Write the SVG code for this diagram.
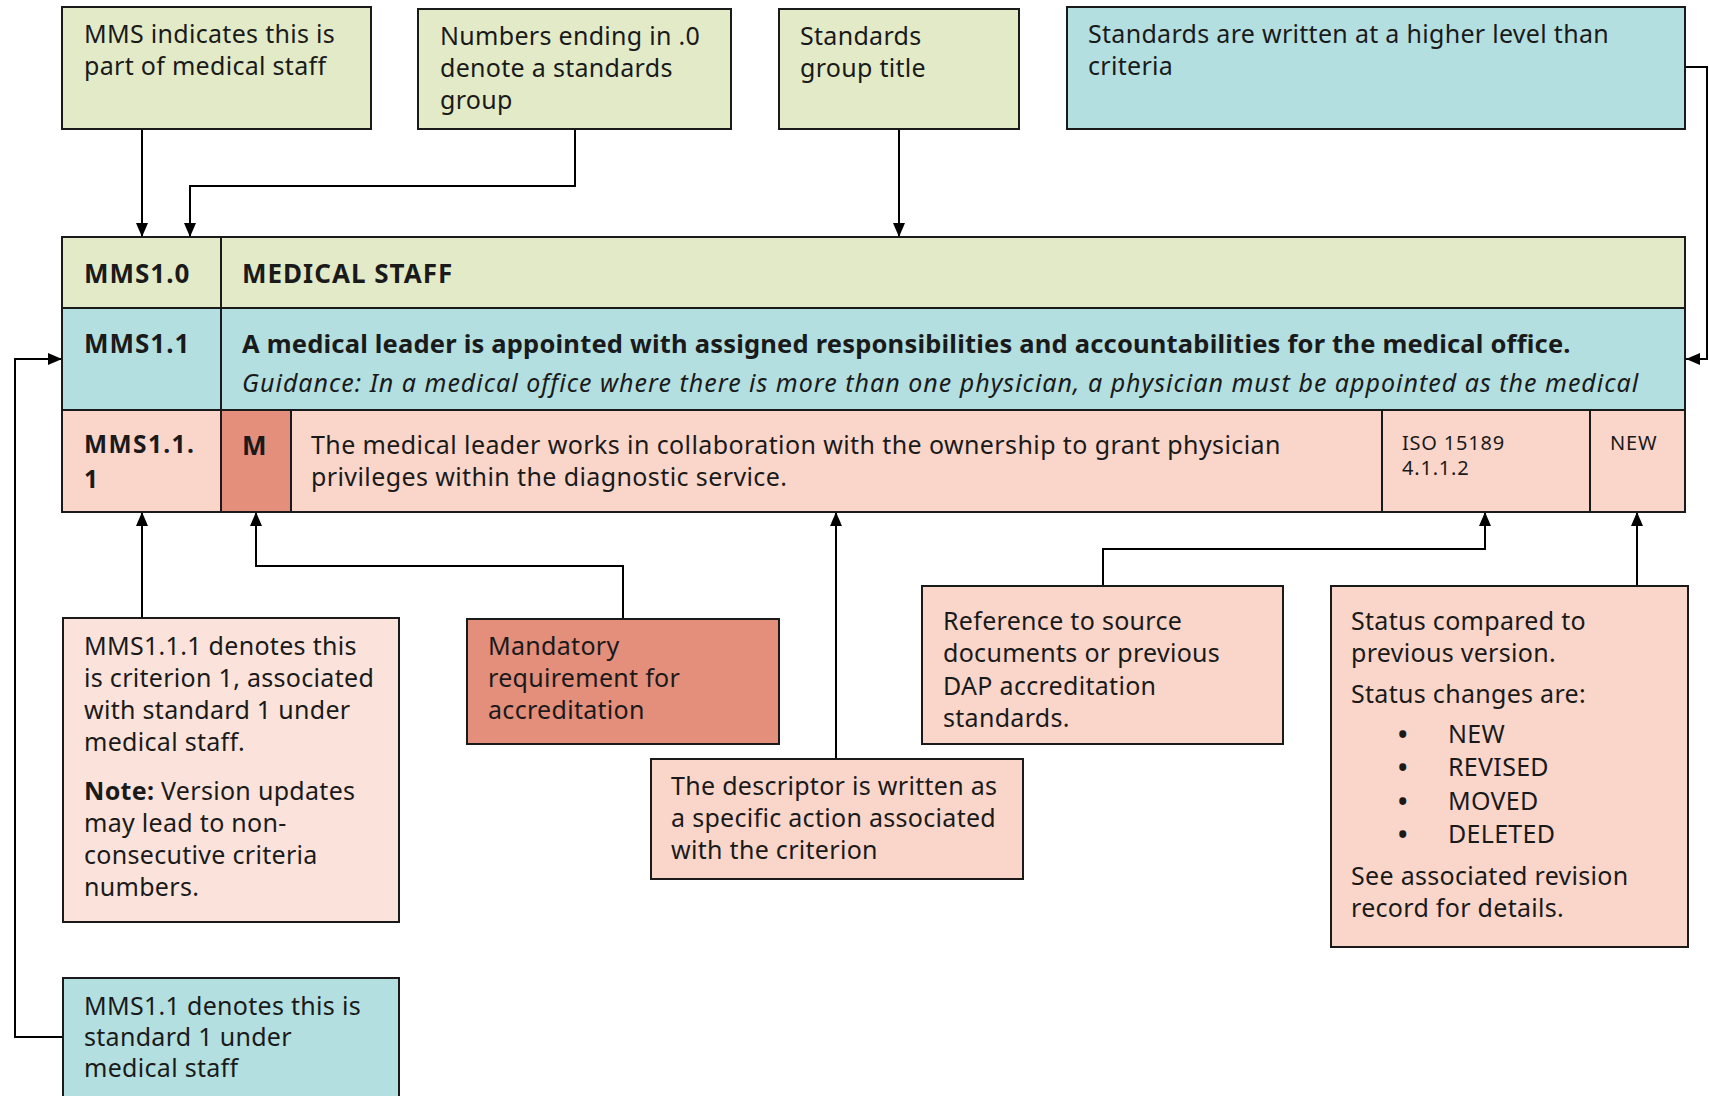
<svg xmlns="http://www.w3.org/2000/svg" width="1709" height="1096" viewBox="0 0 1709 1096">
<defs>
<style>
.t{font-family:"Noto Sans","Open Sans",sans-serif;font-size:25px;letter-spacing:0.3px;fill:#1a1a1a}
.b{font-weight:bold}
.hd{font-weight:bold;font-size:26px;letter-spacing:1px}
.hs{font-weight:bold;font-size:24.5px;letter-spacing:1.4px}
.st{font-weight:bold;font-size:25.5px;letter-spacing:0.2px}
.i{font-style:italic;letter-spacing:1px}
.ds{letter-spacing:0.4px}
.sm{font-size:20px;letter-spacing:0.8px}
.g{fill:#E3EAC8;stroke:#1a1a1a;stroke-width:2}
.bl{fill:#B3DFE0;stroke:#1a1a1a;stroke-width:2}
.pk{fill:#FAD6CA;stroke:#1a1a1a;stroke-width:2}
.lp{fill:#FBE3DB;stroke:#1a1a1a;stroke-width:2}
.dk{fill:#E48E7C;stroke:#1a1a1a;stroke-width:2}
.ln{stroke:#1a1a1a;stroke-width:2;fill:none}
.c{stroke:#000;stroke-width:2;fill:none;marker-end:url(#ah)}
</style>
<marker id="ah" markerUnits="userSpaceOnUse" markerWidth="14" markerHeight="12" refX="14" refY="6" orient="auto">
<path d="M0,0 L14,6 L0,12 z" fill="#000"/>
</marker>
</defs>

<g id="connectors">
<path class="c" d="M142,129 V237"/>
<path class="c" d="M575,129 V186 H190 V237"/>
<path class="c" d="M899,129 V237"/>
<path class="c" d="M1685,67 H1707 V359 H1686"/>
<path class="c" d="M62,1037 H15 V359 H62"/>
<path class="c" d="M142,618 V512"/>
<path class="c" d="M623,619 V566 H256 V512"/>
<path class="c" d="M836,759 V512"/>
<path class="c" d="M1103,586 V549 H1485 V512"/>
<path class="c" d="M1637,586 V512"/>
</g>

<g id="table">
<g id="row-group">
<rect class="g" x="62" y="237" width="1623" height="71"/>
<line class="ln" x1="221" y1="237" x2="221" y2="308"/>
<text class="t hd" x="84" y="283">MMS1.0</text>
<text class="t hd" x="242" y="283">MEDICAL STAFF</text>
</g>
<g id="row-standard">
<rect class="bl" x="62" y="308" width="1623" height="102"/>
<line class="ln" x1="221" y1="308" x2="221" y2="410"/>
<text class="t hd" x="84" y="353">MMS1.1</text>
<text class="t st" x="242" y="353">A medical leader is appointed with assigned responsibilities and accountabilities for the medical office.</text>
<text class="t i" x="242" y="392">Guidance: In a medical office where there is more than one physician, a physician must be appointed as the medical</text>
</g>
<g id="row-criterion">
<rect class="pk" x="62" y="410" width="1623" height="102"/>
<rect class="dk" x="221" y="410" width="70" height="102"/>
<line class="ln" x1="1382" y1="410" x2="1382" y2="512"/>
<line class="ln" x1="1590" y1="410" x2="1590" y2="512"/>
<text class="t hs" x="84" y="453">MMS1.1.</text>
<text class="t hs" x="84" y="488">1</text>
<text class="t hd" x="242" y="455">M</text>
<text class="t ds" x="311" y="454">The medical leader works in collaboration with the ownership to grant physician<tspan x="311" dy="32">privileges within the diagnostic service.</tspan></text>
<text class="t sm" x="1402" y="450">ISO 15189<tspan x="1402" dy="25">4.1.1.2</tspan></text>
<text class="t sm" x="1610" y="450">NEW</text>
</g>
</g>

<g id="note-mms">
<rect class="g" x="62" y="7" width="309" height="122"/>
<text class="t" x="84" y="43">MMS indicates this is</text>
<text class="t" x="84" y="75">part of medical staff</text>
</g>
<g id="note-numbers">
<rect class="g" x="418" y="9" width="313" height="120"/>
<text class="t" x="440" y="45">Numbers ending in .0</text>
<text class="t" x="440" y="77">denote a standards</text>
<text class="t" x="440" y="109">group</text>
</g>
<g id="note-title">
<rect class="g" x="779" y="9" width="240" height="120"/>
<text class="t" x="800" y="45">Standards</text>
<text class="t" x="800" y="77">group title</text>
</g>
<g id="note-standards">
<rect class="bl" x="1067" y="7" width="618" height="122"/>
<text class="t" x="1088" y="43">Standards are written at a higher level than</text>
<text class="t" x="1088" y="75">criteria</text>
</g>

<g id="note-criterion">
<rect class="lp" x="63" y="618" width="336" height="304"/>
<text class="t" x="84" y="655">MMS1.1.1 denotes this</text>
<text class="t" x="84" y="687">is criterion 1, associated</text>
<text class="t" x="84" y="719">with standard 1 under</text>
<text class="t" x="84" y="751">medical staff.</text>
<text class="t" x="84" y="800"><tspan class="b">Note:</tspan> Version updates</text>
<text class="t" x="84" y="832">may lead to non-</text>
<text class="t" x="84" y="864">consecutive criteria</text>
<text class="t" x="84" y="896">numbers.</text>
</g>
<g id="note-mandatory">
<rect class="dk" x="467" y="619" width="312" height="125"/>
<text class="t" x="488" y="655">Mandatory</text>
<text class="t" x="488" y="687">requirement for</text>
<text class="t" x="488" y="719">accreditation</text>
</g>
<g id="note-descriptor">
<rect class="pk" x="651" y="759" width="372" height="120"/>
<text class="t" x="671" y="795">The descriptor is written as</text>
<text class="t" x="671" y="827">a specific action associated</text>
<text class="t" x="671" y="859">with the criterion</text>
</g>
<g id="note-reference">
<rect class="pk" x="922" y="586" width="361" height="158"/>
<text class="t" x="943" y="630">Reference to source</text>
<text class="t" x="943" y="662">documents or previous</text>
<text class="t" x="943" y="695">DAP accreditation</text>
<text class="t" x="943" y="727">standards.</text>
</g>
<g id="note-status">
<rect class="pk" x="1331" y="586" width="357" height="361"/>
<text class="t" x="1351" y="630">Status compared to</text>
<text class="t" x="1351" y="662">previous version.</text>
<text class="t" x="1351" y="703">Status changes are:</text>
<text class="t b" x="1398" y="743">•</text><text class="t" x="1448" y="743">NEW</text>
<text class="t b" x="1398" y="776">•</text><text class="t" x="1448" y="776">REVISED</text>
<text class="t b" x="1398" y="810">•</text><text class="t" x="1448" y="810">MOVED</text>
<text class="t b" x="1398" y="843">•</text><text class="t" x="1448" y="843">DELETED</text>
<text class="t" x="1351" y="885">See associated revision</text>
<text class="t" x="1351" y="917">record for details.</text>
</g>
<g id="note-standard-number">
<rect class="bl" x="63" y="978" width="336" height="130"/>
<text class="t" x="84" y="1015">MMS1.1 denotes this is</text>
<text class="t" x="84" y="1046">standard 1 under</text>
<text class="t" x="84" y="1077">medical staff</text>
</g>
</svg>
